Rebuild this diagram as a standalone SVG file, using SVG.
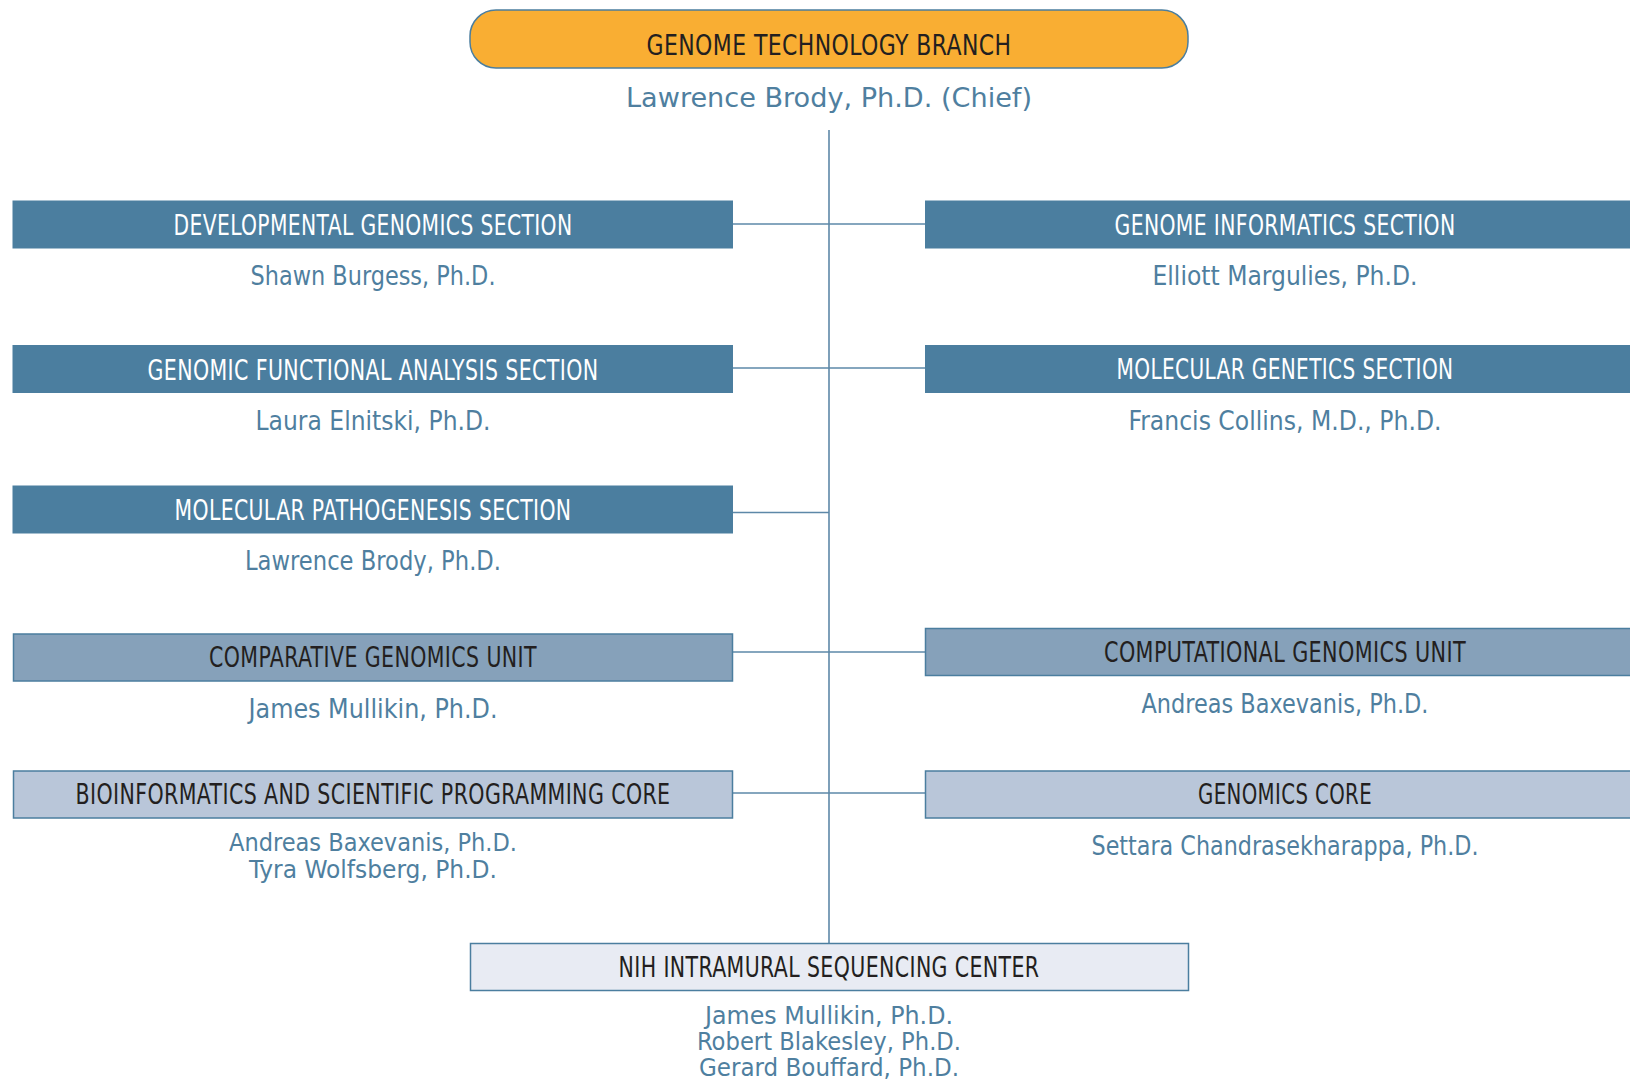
<svg xmlns="http://www.w3.org/2000/svg" width="1630" height="1081" viewBox="0 0 1630 1081">
<style>
.bg{fill:#ffffff}
.conn line{stroke:#5d88a8;stroke-width:1.6}
.dark{fill:#4b7e9f}
.mid{fill:#86a1ba;stroke:#4b7e9f;stroke-width:1.5}
.light{fill:#b9c6d9;stroke:#4b7e9f;stroke-width:1.5}
.pale{fill:#e8ebf3;stroke:#4b7e9f;stroke-width:1.5}
.hdr{font-family:"Liberation Sans Narrow","DejaVu Sans Condensed","Liberation Sans",sans-serif;font-size:29px;text-anchor:middle;letter-spacing:0.5px}
.hw{fill:#ffffff}
.hb{fill:#231f20}
.nm{font-family:"Liberation Sans Narrow","DejaVu Sans Condensed","Liberation Sans",sans-serif;font-size:26px;fill:#4f7f9f;text-anchor:middle}
.st{font-size:24px}
</style>
<rect class="bg" x="0" y="0" width="1630" height="1081"/>
<g id="connectors" class="conn">
<line x1="829" y1="130" x2="829" y2="943"/>
<line x1="733" y1="224" x2="925" y2="224"/>
<line x1="733" y1="368" x2="925" y2="368"/>
<line x1="733" y1="512.5" x2="829" y2="512.5"/>
<line x1="733" y1="652" x2="925" y2="652"/>
<line x1="733" y1="793" x2="925" y2="793"/>
</g>
<g id="branch">
<rect x="470" y="10" width="718" height="58" rx="26" ry="26" fill="#f9ae33" stroke="#4b7e9f" stroke-width="1.5"/>
<text class="hdr hb" x="829" y="55" font-size="33" textLength="365" lengthAdjust="spacingAndGlyphs">GENOME TECHNOLOGY BRANCH</text>
<text class="nm" x="829" y="107" font-size="29" textLength="406" lengthAdjust="spacingAndGlyphs">Lawrence Brody, Ph.D. (Chief)</text>
</g>
<g id="developmental">
<rect class="dark" x="12.5" y="200.5" width="720.5" height="48"/>
<text class="hdr hw" x="373" y="235" textLength="399" lengthAdjust="spacingAndGlyphs">DEVELOPMENTAL GENOMICS SECTION</text>
<text class="nm" x="373" y="285" textLength="245" lengthAdjust="spacingAndGlyphs">Shawn Burgess, Ph.D.</text>
</g>
<g id="informatics">
<rect class="dark" x="925" y="200.5" width="705" height="48"/>
<text class="hdr hw" x="1285" y="235" textLength="341" lengthAdjust="spacingAndGlyphs">GENOME INFORMATICS SECTION</text>
<text class="nm" x="1285" y="285" textLength="265" lengthAdjust="spacingAndGlyphs">Elliott Margulies, Ph.D.</text>
</g>
<g id="functional">
<rect class="dark" x="12.5" y="345" width="720.5" height="48"/>
<text class="hdr hw" x="373" y="380" textLength="451" lengthAdjust="spacingAndGlyphs">GENOMIC FUNCTIONAL ANALYSIS SECTION</text>
<text class="nm" x="373" y="430" textLength="235" lengthAdjust="spacingAndGlyphs">Laura Elnitski, Ph.D.</text>
</g>
<g id="molgen">
<rect class="dark" x="925" y="345" width="705" height="48"/>
<text class="hdr hw" x="1285" y="379" textLength="337" lengthAdjust="spacingAndGlyphs">MOLECULAR GENETICS SECTION</text>
<text class="nm" x="1285" y="430" textLength="313" lengthAdjust="spacingAndGlyphs">Francis Collins, M.D., Ph.D.</text>
</g>
<g id="pathogenesis">
<rect class="dark" x="12.5" y="485.5" width="720.5" height="48"/>
<text class="hdr hw" x="373" y="520" textLength="397" lengthAdjust="spacingAndGlyphs">MOLECULAR PATHOGENESIS SECTION</text>
<text class="nm" x="373" y="570" textLength="256" lengthAdjust="spacingAndGlyphs">Lawrence Brody, Ph.D.</text>
</g>
<g id="comparative">
<rect class="mid" x="13.5" y="634" width="719" height="47"/>
<text class="hdr hb" x="373" y="667" textLength="328" lengthAdjust="spacingAndGlyphs">COMPARATIVE GENOMICS UNIT</text>
<text class="nm" x="373" y="718" textLength="249" lengthAdjust="spacingAndGlyphs">James Mullikin, Ph.D.</text>
</g>
<g id="computational">
<rect class="mid" x="925.5" y="628.5" width="706" height="47"/>
<text class="hdr hb" x="1285" y="662" textLength="362" lengthAdjust="spacingAndGlyphs">COMPUTATIONAL GENOMICS UNIT</text>
<text class="nm" x="1285" y="713" textLength="287" lengthAdjust="spacingAndGlyphs">Andreas Baxevanis, Ph.D.</text>
</g>
<g id="bioinformatics">
<rect class="light" x="13.5" y="771" width="719" height="47"/>
<text class="hdr hb" x="373" y="804" textLength="595" lengthAdjust="spacingAndGlyphs">BIOINFORMATICS AND SCIENTIFIC PROGRAMMING CORE</text>
<text class="nm st" x="373" y="851" textLength="288" lengthAdjust="spacingAndGlyphs">Andreas Baxevanis, Ph.D.</text>
<text class="nm st" x="373" y="878" textLength="248" lengthAdjust="spacingAndGlyphs">Tyra Wolfsberg, Ph.D.</text>
</g>
<g id="genomicscore">
<rect class="light" x="925.5" y="771" width="706" height="47"/>
<text class="hdr hb" x="1285" y="804" textLength="174" lengthAdjust="spacingAndGlyphs">GENOMICS CORE</text>
<text class="nm" x="1285" y="855" textLength="387" lengthAdjust="spacingAndGlyphs">Settara Chandrasekharappa, Ph.D.</text>
</g>
<g id="nisc">
<rect class="pale" x="470.5" y="943.5" width="718" height="47"/>
<text class="hdr hb" x="829" y="977" textLength="421" lengthAdjust="spacingAndGlyphs">NIH INTRAMURAL SEQUENCING CENTER</text>
<text class="nm st" x="829" y="1024" textLength="248" lengthAdjust="spacingAndGlyphs">James Mullikin, Ph.D.</text>
<text class="nm st" x="829" y="1050" textLength="264" lengthAdjust="spacingAndGlyphs">Robert Blakesley, Ph.D.</text>
<text class="nm st" x="829" y="1076" textLength="260" lengthAdjust="spacingAndGlyphs">Gerard Bouffard, Ph.D.</text>
</g>
</svg>
